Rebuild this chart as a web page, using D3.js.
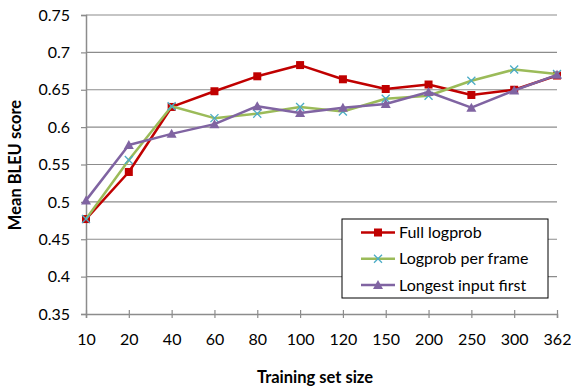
<!DOCTYPE html>
<html><head><meta charset="utf-8">
<script src="https://cdn.jsdelivr.net/npm/d3@7"></script>
<style>body{margin:0;background:#fff}svg text{font-family:Lato,"Open Sans",sans-serif}</style>
</head><body><svg id="c" width="571" height="386"></svg>
<script>
const categories = ["10","20","40","60","80","100","120","150","200","250","300","362"];
const fullLogprob = [0.477,0.540,0.627,0.648,0.668,0.683,0.664,0.651,0.657,0.643,0.650,0.669];
const logprobPerFrame = [0.477,0.556,0.628,0.612,0.618,0.627,0.621,0.638,0.642,0.662,0.677,0.671];
const longestInputFirst = [0.502,0.576,0.591,0.604,0.628,0.619,0.626,0.631,0.647,0.626,0.649,0.670];
const yTicks = [0.35,0.4,0.45,0.5,0.55,0.6,0.65,0.7,0.75];
const seriesNames = ["Full logprob","Logprob per frame","Longest input first"];

const series = [
  {name:seriesNames[0], values:fullLogprob, color:"#C00000", marker:"square"},
  {name:seriesNames[1], values:logprobPerFrame, color:"#9BBB59", marker:"x", mcolor:"#4BACC6"},
  {name:seriesNames[2], values:longestInputFirst, color:"#8064A2", marker:"triangle"}
];

const svg = d3.select("#c");
const L=86, R=557, T=15, B=314;
const x = d3.scalePoint().domain(categories).range([L,R]);
const y = d3.scaleLinear().domain([0.35,0.75]).range([B,T]);

// gridlines
svg.append("g").selectAll("line").data(yTicks.slice(1)).join("line")
  .attr("x1",L).attr("x2",R).attr("y1",d=>y(d)).attr("y2",d=>y(d))
  .attr("stroke","#8c8c8c").attr("stroke-width",1.2);

// y axis
const yAxis = svg.append("g").attr("transform",`translate(${L},0)`)
  .call(d3.axisLeft(y).tickValues(yTicks).tickSize(5).tickPadding(11).tickFormat(d=>String(d)));
yAxis.select(".domain").attr("stroke","#8c8c8c").attr("stroke-width",1.5);
yAxis.selectAll(".tick line").attr("stroke","#8c8c8c").attr("stroke-width",1.2);
yAxis.selectAll("text").attr("font-size",16).attr("fill","#000");

// x axis
const xAxis = svg.append("g").attr("transform",`translate(0,${B})`)
  .call(d3.axisBottom(x).tickSize(4).tickPadding(16));
xAxis.select(".domain").attr("stroke","#8c8c8c").attr("stroke-width",1.5);
xAxis.selectAll(".tick line").attr("stroke","#8c8c8c").attr("stroke-width",1.2).attr("y1",-4);
xAxis.selectAll("text").attr("font-size",16).attr("fill","#000");

function drawMarker(g, type, cx, cy, s){
  if(type==="square"){
    g.append("rect").attr("x",cx-4).attr("y",cy-4).attr("width",8).attr("height",8).attr("fill",s.color);
  } else if(type==="triangle"){
    g.append("path").attr("d",`M${cx},${cy-5}L${cx+5},${cy+4}L${cx-5},${cy+4}Z`).attr("fill",s.color);
  } else {
    g.append("path").attr("d",`M${cx-4},${cy-4}L${cx+4},${cy+4}M${cx-4},${cy+4}L${cx+4},${cy-4}`)
      .attr("stroke",s.mcolor).attr("stroke-width",1.3).attr("fill","none");
  }
}

const line = d3.line().x((d,i)=>x(categories[i])).y(d=>y(d));
series.forEach(s=>{
  svg.append("path").datum(s.values).attr("d",line).attr("fill","none")
    .attr("stroke",s.color).attr("stroke-width",2.5).attr("stroke-linejoin","round");
  const g = svg.append("g");
  s.values.forEach((v,i)=>drawMarker(g,s.marker,x(categories[i]),y(v),s));
});

// axis titles
svg.append("text").attr("x",315).attr("y",383).attr("text-anchor","middle")
  .attr("font-size",16.5).attr("font-weight","bold").text("Training set size");
svg.append("text").attr("transform","translate(21,165) rotate(-90)").attr("text-anchor","middle")
  .attr("font-size",16.5).attr("font-weight","bold").text("Mean BLEU score");

// legend
const lg = svg.append("g");
lg.append("rect").attr("x",342).attr("y",219).attr("width",206).attr("height",79)
  .attr("fill","#fff").attr("stroke","#000").attr("stroke-width",1);
series.forEach((s,i)=>{
  const cy = 232.5 + i*26.3;
  lg.append("line").attr("x1",361).attr("x2",395).attr("y1",cy).attr("y2",cy)
    .attr("stroke",s.color).attr("stroke-width",2.5);
  drawMarker(lg,s.marker,378,cy,s);
  lg.append("text").attr("x",399).attr("y",cy+5.5).attr("font-size",16).text(s.name);
});
</script></body></html>
